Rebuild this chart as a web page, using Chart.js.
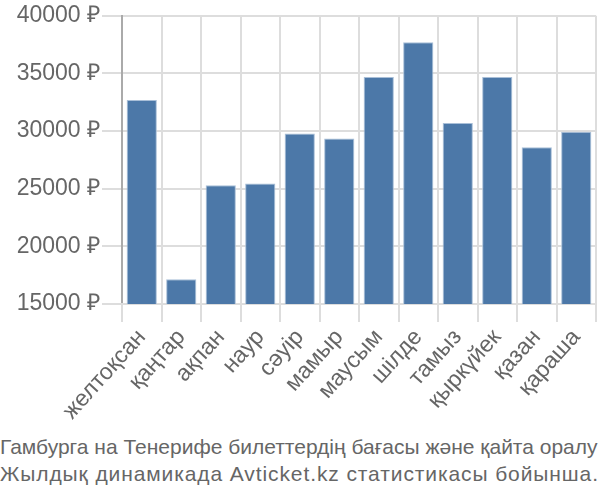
<!DOCTYPE html>
<html>
<head>
<meta charset="utf-8">
<script src="https://cdn.jsdelivr.net/npm/chart.js@4"></script>
<style>
  body { margin: 0; background: #fff; }
  #wrap { width: 600px; height: 430px; position: relative; }
  #caption {
    font-family: "Liberation Sans Narrow", "Liberation Sans", sans-serif;
    font-size: 21px; color: #666; line-height: 27px;
    margin-top: 3px; white-space: nowrap;
  }
  #caption .l2 { letter-spacing: 0.9px; }
</style>
</head>
<body>
<div id="wrap"><canvas id="chart"></canvas></div>
<div id="caption"><div>Гамбурга на Тенерифе билеттердің бағасы және қайта оралу</div><div class="l2">Жылдық динамикада Avticket.kz статистикасы бойынша.</div></div>
<script>
const months = ['желтоқсан', 'қаңтар', 'ақпан', 'наур', 'сәуір', 'мамыр', 'маусым', 'шілде', 'тамыз', 'қыркүйек', 'қазан', 'қараша'];
const prices = [32700, 17150, 25300, 25450, 29800, 29350, 34700, 37700, 30700, 34700, 28600, 29950];
const yTicks = [15000, 20000, 25000, 30000, 35000, 40000];

const ctx = document.getElementById('chart').getContext('2d');
new Chart(ctx, {
    type: 'bar',
    data: {
        labels: months,
        datasets: [{
            data: prices,
            backgroundColor: '#4c78a8',
            borderColor: '#a9bfd8',
            borderWidth: 1,
            categoryPercentage: 0.85,
            barPercentage: 0.9
        }]
    },
    options: {
        responsive: true,
        maintainAspectRatio: false,
        animation: false,
        layout: { padding: { top: 4, right: 4 } },
        plugins: { legend: { display: false }, tooltip: { enabled: false } },
        scales: {
            y: {
                min: 15000,
                max: 40000,
                afterBuildTicks: scale => { scale.ticks = yTicks.map(v => ({ value: v })); },
                afterFit: scale => { scale.width = 122; },
                ticks: {
                    color: '#666',
                    font: { family: 'Liberation Sans', size: 23 },
                    padding: 2,
                    callback: v => v + ' ₽'
                },
                grid: { color: '#ddd', lineWidth: 2, tickLength: 20 },
                border: { color: '#aaa', width: 2 }
            },
            x: {
                afterFit: scale => { scale.height = 126; },
                ticks: {
                    color: '#666',
                    font: { family: 'Liberation Sans', size: 23 },
                    autoSkip: false,
                    minRotation: 48,
                    maxRotation: 48,
                    padding: 2
                },
                grid: { color: '#ddd', lineWidth: 2, offset: true, tickLength: 18 },
                border: { color: '#ddd', width: 2 }
            }
        }
    }
});
</script>
</body>
</html>
